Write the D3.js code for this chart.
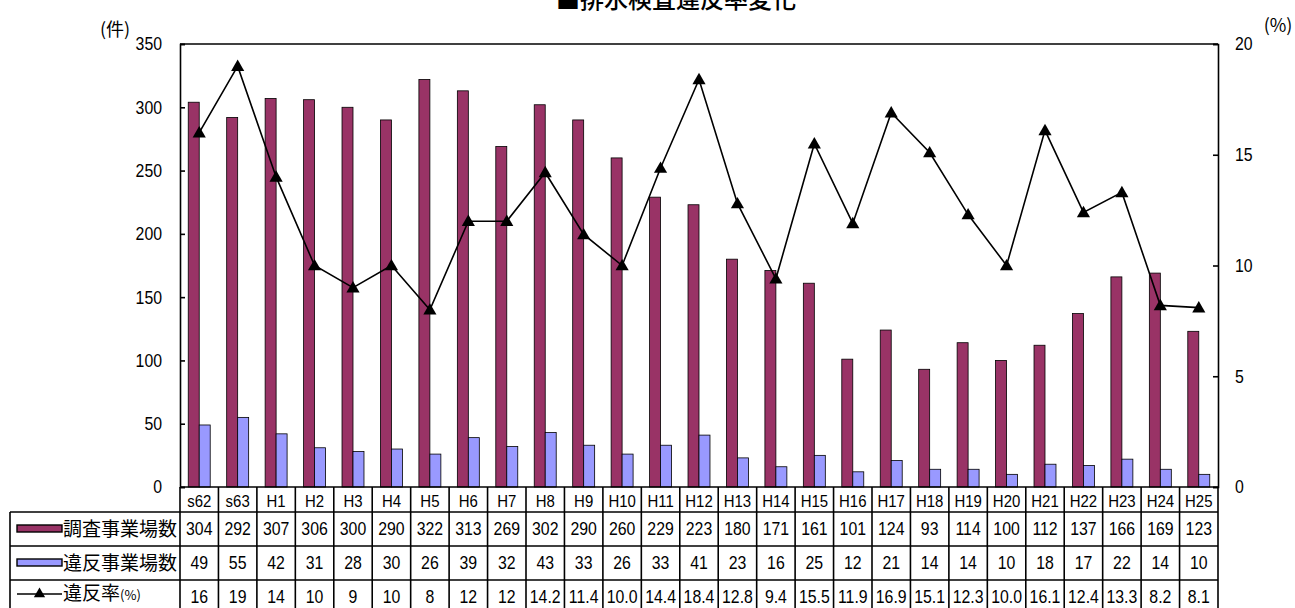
<!DOCTYPE html>
<html>
<head>
<meta charset="utf-8">
<script src="https://cdn.jsdelivr.net/npm/d3@7"></script>
<style>
  html, body { margin: 0; padding: 0; background: #fff; overflow: hidden; }
  svg { display: block; }
  .num { font-family: "Liberation Sans", Arial, sans-serif; }
  .jp { font-family: "Noto Sans CJK JP", sans-serif; }
</style>
</head>
<body>
<svg id="chart" width="1295" height="608"></svg>
<script>
// Fiscal years (Showa 62 – Heisei 25)
const categories = ["s62","s63","H1","H2","H3","H4","H5","H6","H7","H8","H9","H10","H11","H12","H13","H14","H15","H16","H17","H18","H19","H20","H21","H22","H23","H24","H25"];
// Inspected workplaces
const inspected = [304,292,307,306,300,290,322,313,269,302,290,260,229,223,180,171,161,101,124,93,114,100,112,137,166,169,123];
// Workplaces in violation
const violations = [49,55,42,31,28,30,26,39,32,43,33,26,33,41,23,16,25,12,21,14,14,10,18,17,22,14,10];
// Violation rate (%) as listed in the table
const rateLabels = ["16","19","14","10","9","10","8","12","12","14.2","11.4","10.0","14.4","18.4","12.8","9.4","15.5","11.9","16.9","15.1","12.3","10.0","16.1","12.4","13.3","8.2","8.1"];
const rates = rateLabels.map(Number);
// Axis ticks
const leftTicks = [0,50,100,150,200,250,300,350];
const rightTicks = [0,5,10,15,20];
const seriesNames = ["調査事業場数","違反事業場数"];

const svg = d3.select("#chart");
const plot = { left: 180, right: 1218, top: 44, bottom: 487 };
const colors = { inspected: "#993366", violations: "#9999ff" };
const narrow = 0.88; // horizontal squeeze for the numeric font

const x = d3.scaleBand().domain(categories).range([plot.left, plot.right]).paddingInner(0).paddingOuter(0);
const xSub = d3.scaleBand().domain(seriesNames).range([0, x.bandwidth()]).paddingInner(0).paddingOuter(0.75);
const yL = d3.scaleLinear().domain([0, 350]).range([plot.bottom, plot.top]);
const yR = d3.scaleLinear().domain([0, 20]).range([plot.bottom, plot.top]);

// Condensed numeric text helper
function numText(parent, cx, cy, str, size, anchor) {
  return parent.append("text").attr("class", "num")
    .attr("transform", `translate(${cx},${cy}) scale(${narrow},1)`)
    .attr("dy", "0.36em").attr("text-anchor", anchor || "middle")
    .attr("font-size", size).attr("fill", "#000").text(str);
}

// Title (partly above the visible area)
svg.append("text").attr("class", "jp")
  .attr("x", 676).attr("y", 8).attr("text-anchor", "middle")
  .attr("font-size", 24).attr("font-weight", 500).attr("fill", "#000")
  .text("■排水検査違反率変化");

// Unit labels
svg.append("text").attr("class", "jp").attr("x", 115).attr("y", 36)
  .attr("text-anchor", "middle").attr("font-size", 18).text("(件)");
svg.append("text").attr("class", "jp").attr("x", 1278).attr("y", 32)
  .attr("text-anchor", "middle").attr("font-size", 18).text("(%)");

// Bars
const g = svg.append("g");
categories.forEach((c, i) => {
  const vals = [inspected[i], violations[i]];
  const fills = [colors.inspected, colors.violations];
  seriesNames.forEach((s, j) => {
    g.append("rect")
      .attr("x", x(c) + xSub(s))
      .attr("y", yL(vals[j]))
      .attr("width", xSub.bandwidth())
      .attr("height", yL(0) - yL(vals[j]))
      .attr("fill", fills[j])
      .attr("stroke", "#000").attr("stroke-width", 0.8);
  });
});

// Plot frame
svg.append("line").attr("x1", plot.left).attr("x2", plot.right)
  .attr("y1", plot.top).attr("y2", plot.top).attr("stroke", "#000").attr("stroke-width", 1.6);

// Left and right axes, ticks pointing inward; labels drawn condensed
const axL = svg.append("g").attr("transform", `translate(${plot.left},0)`)
  .call(d3.axisLeft(yL).tickValues(leftTicks).tickSize(-5).tickFormat(""));
const axR = svg.append("g").attr("transform", `translate(${plot.right},0)`)
  .call(d3.axisRight(yR).tickValues(rightTicks).tickSize(-5).tickFormat(""));
[axL, axR].forEach(a => {
  a.select(".domain").attr("stroke", "#000").attr("stroke-width", 1.6);
  a.selectAll(".tick line").attr("stroke", "#000").attr("stroke-width", 1.6);
});
leftTicks.forEach(v => numText(svg, plot.left - 18, yL(v), String(v), 18, "end"));
rightTicks.forEach(v => numText(svg, plot.right + 17, yR(v), String(v), 18, "start"));

// Rate line with triangle markers
const line = d3.line().x((d, i) => x(categories[i]) + x.bandwidth() / 2).y(d => yR(d));
svg.append("path").datum(rates).attr("d", line)
  .attr("fill", "none").attr("stroke", "#000").attr("stroke-width", 1.6);
const tri = d3.symbol().type(d3.symbolTriangle).size(75);
svg.selectAll(".marker").data(rates).join("path")
  .attr("class", "marker")
  .attr("transform", (d, i) => `translate(${x(categories[i]) + x.bandwidth() / 2},${yR(d) + 1})`)
  .attr("d", tri).attr("fill", "#000");

// Data table
const rowTops = [487, 512, 546, 580, 614];
const tableLeft = 10;
const tg = svg.append("g");
function hline(x1, x2, y) {
  tg.append("line").attr("x1", x1).attr("x2", x2).attr("y1", y).attr("y2", y)
    .attr("stroke", "#000").attr("stroke-width", 1.6);
}
function vline(xv, y1, y2) {
  tg.append("line").attr("x1", xv).attr("x2", xv).attr("y1", y1).attr("y2", y2)
    .attr("stroke", "#000").attr("stroke-width", 1.6);
}
hline(plot.left, plot.right, rowTops[0]);
for (let r = 1; r < rowTops.length; r++) hline(tableLeft, plot.right, rowTops[r]);
vline(tableLeft, rowTops[1], rowTops[4]);
categories.forEach(c => vline(x(c), rowTops[0], rowTops[4]));
vline(plot.right, rowTops[0], rowTops[4]);

// Header row: category labels
categories.forEach(c => {
  numText(tg, x(c) + x.bandwidth() / 2, (rowTops[0] + rowTops[1]) / 2 + 1, c, 17);
});

// Value rows
const rows = [inspected.map(String), violations.map(String), rateLabels];
rows.forEach((vals, r) => {
  const cy = (rowTops[r + 1] + rowTops[r + 2]) / 2;
  vals.forEach((v, i) => numText(tg, x(categories[i]) + x.bandwidth() / 2, cy, v, 18));
});

// Legend keys inside the first column
const keyX1 = 17, keyX2 = 62;
[0, 1].forEach(r => {
  const cy = (rowTops[r + 1] + rowTops[r + 2]) / 2;
  tg.append("rect").attr("x", keyX1).attr("y", cy - 4).attr("width", keyX2 - keyX1).attr("height", 7)
    .attr("fill", r === 0 ? colors.inspected : colors.violations)
    .attr("stroke", "#000").attr("stroke-width", 1.4);
  tg.append("text").attr("class", "jp").attr("x", keyX2 + 1).attr("y", cy)
    .attr("dy", "0.36em").attr("font-size", 19).text(seriesNames[r]);
});
{
  const cy = (rowTops[3] + rowTops[4]) / 2 - 3;
  tg.append("line").attr("x1", keyX1).attr("x2", keyX2).attr("y1", cy).attr("y2", cy)
    .attr("stroke", "#000").attr("stroke-width", 1.6);
  tg.append("path").attr("transform", `translate(${(keyX1 + keyX2) / 2},${cy})`)
    .attr("d", d3.symbol().type(d3.symbolTriangle).size(55)).attr("fill", "#000");
  const t = tg.append("text").attr("x", keyX2 + 1).attr("y", cy).attr("dy", "0.36em");
  t.append("tspan").attr("class", "jp").attr("font-size", 19).text("違反率");
  t.append("tspan").attr("class", "jp").attr("font-size", 13).text("(%)");
}
</script>
</body>
</html>
